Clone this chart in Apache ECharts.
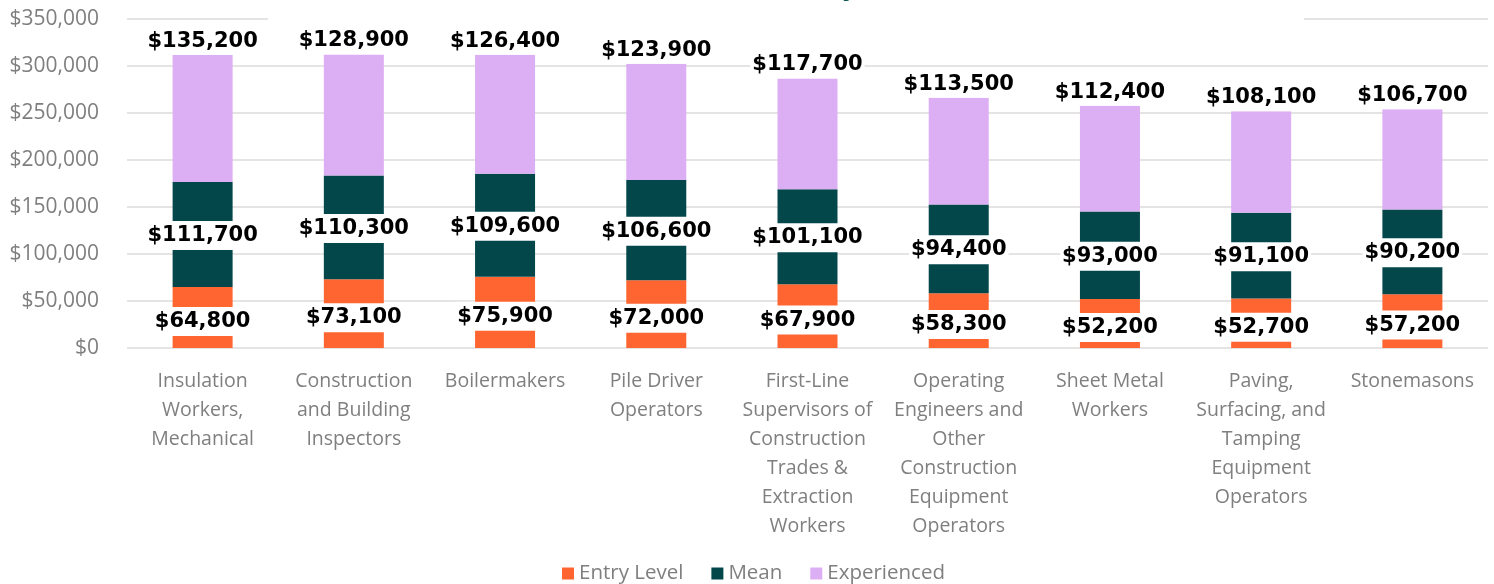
<!DOCTYPE html>
<html>
<head>
<meta charset="utf-8">
<script src="https://cdn.jsdelivr.net/npm/echarts@6/dist/echarts.min.js"></script>
<style>
  html, body { margin: 0; padding: 0; background: #fff; }
  #chart { width: 1494px; height: 584px; }
</style>
</head>
<body>
<div id="chart"></div>
<script>
const categories = [
  "Insulation\nWorkers,\nMechanical",
  "Construction\nand Building\nInspectors",
  "Boilermakers",
  "Pile Driver\nOperators",
  "First-Line\nSupervisors of\nConstruction\nTrades &\nExtraction\nWorkers",
  "Operating\nEngineers and\nOther\nConstruction\nEquipment\nOperators",
  "Sheet Metal\nWorkers",
  "Paving,\nSurfacing, and\nTamping\nEquipment\nOperators",
  "Stonemasons",
];
const entryLevel = [64800, 73100, 75900, 72000, 67900, 58300, 52200, 52700, 57200];
const mean = [111700, 110300, 109600, 106600, 101100, 94400, 93000, 91100, 90200];
const experienced = [135200, 128900, 126400, 123900, 117700, 113500, 112400, 108100, 106700];

const yTicks = { min: 0, max: 350000, interval: 50000 };

function money(v) {
  return "$" + Number(v).toLocaleString("en-US");
}

window.addEventListener("load", function () {
  const chart = echarts.init(document.getElementById("chart"));
  const grey = "#7f7f7f";

  const valueLabel = {
    show: true,
    formatter: (p) => money(p.value),
    fontFamily: "DejaVu Sans",
    fontWeight: "bold",
    fontSize: 21,
    color: "#000",
    backgroundColor: "#fff",
    padding: [4, 2],
  };

  const option = {
    animation: false,
    title: {
      text: "Highest Paying Construction Jobs\nAnnual Salary, 2024",
      left: 660,
      top: -70,
      z: 20,
      textStyle: {
        fontFamily: "Open Sans",
        fontWeight: "bold",
        fontSize: 28,
        lineHeight: 34,
        color: "#0b5a55",
      },
    },
    graphic: [
      {
        type: "rect",
        left: 268,
        top: 0,
        z: 10,
        shape: { width: 1036, height: 23 },
        style: { fill: "#fff" },
      },
    ],
    legend: {
      data: ["Entry Level", "Mean", "Experienced"],
      left: 562,
      top: 563,
      padding: 0,
      icon: "rect",
      itemWidth: 12,
      itemHeight: 12,
      itemGap: 28,
      textStyle: { fontFamily: "Open Sans", fontSize: 20.5, color: grey },
    },
    grid: { left: 127, right: 6, top: 19, bottom: 236 },
    xAxis: {
      type: "category",
      data: categories,
      axisLine: { show: false },
      axisTick: { show: false },
      axisLabel: {
        interval: 0,
        margin: 19,
        fontFamily: "Open Sans",
        fontSize: 19.5,
        lineHeight: 29,
        color: grey,
        align: "center",
      },
    },
    yAxis: {
      type: "value",
      min: yTicks.min,
      max: yTicks.max,
      interval: yTicks.interval,
      axisLine: { show: false },
      axisTick: { show: false },
      axisLabel: {
        margin: 28,
        fontFamily: "Open Sans",
        fontSize: 21,
        color: grey,
        formatter: money,
      },
      splitLine: { lineStyle: { color: "#dedada", width: 1.5 } },
    },
    series: [
      {
        name: "Entry Level",
        type: "bar",
        stack: "pay",
        barWidth: 60,
        data: entryLevel,
        itemStyle: { color: "#ff6530" },
        label: Object.assign({}, valueLabel, { position: "inside", offset: [0, 4] }),
      },
      {
        name: "Mean",
        type: "bar",
        stack: "pay",
        data: mean,
        itemStyle: { color: "#03474b" },
        label: Object.assign({}, valueLabel, { position: "inside", offset: [0, 1] }),
      },
      {
        name: "Experienced",
        type: "bar",
        stack: "pay",
        data: experienced,
        itemStyle: { color: "#dcaef3" },
        label: Object.assign({}, valueLabel, { position: "top", distance: 0, padding: [3, 2] }),
      },
    ],
  };

  chart.setOption(option);
});
</script>
</body>
</html>
